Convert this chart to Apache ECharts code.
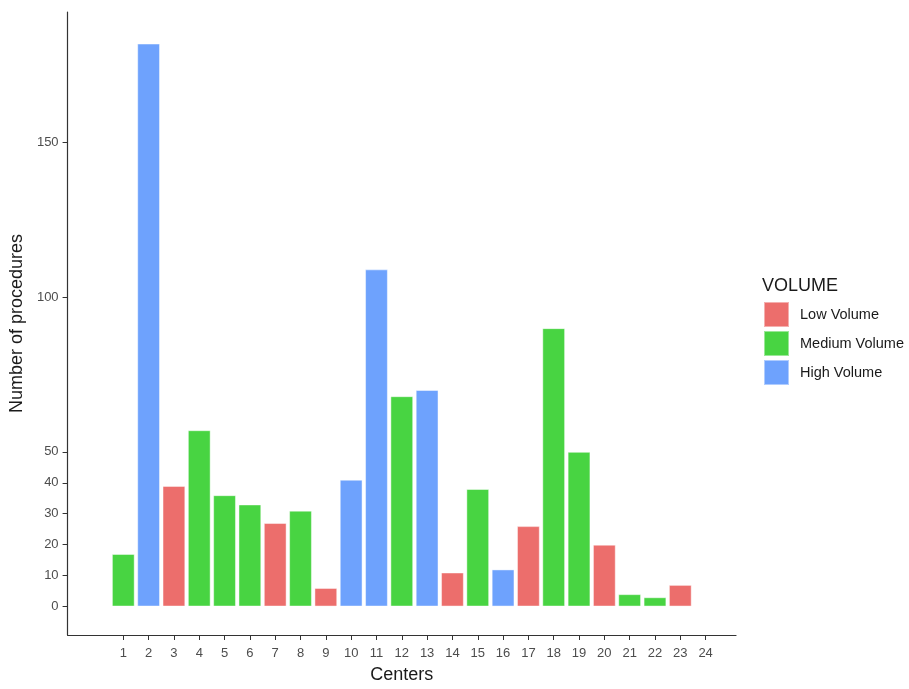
<!DOCTYPE html>
<html>
<head>
<meta charset="utf-8">
<script src="https://cdn.jsdelivr.net/npm/echarts@6/dist/echarts.min.js"></script>
<style>
html,body{margin:0;padding:0;background:#fff;}
#chart{width:909px;height:689px;}
</style>
</head>
<body>
<div id="chart"></div>
<script>
const centers = [1,2,3,4,5,6,7,8,9,10,11,12,13,14,15,16,17,18,19,20,21,22,23,24];
const procedures = [17,182,39,57,36,33,27,31,6,41,109,68,70,11,38,12,26,90,50,20,4,3,7,0];
const volume = ['Medium Volume','High Volume','Low Volume','Medium Volume','Medium Volume','Medium Volume','Low Volume','Medium Volume','Low Volume','High Volume','High Volume','Medium Volume','High Volume','Low Volume','Medium Volume','High Volume','Low Volume','Medium Volume','Medium Volume','Low Volume','Medium Volume','Medium Volume','Low Volume',null];
const groups = ['Low Volume','Medium Volume','High Volume'];
const groupColors = ['#EC6E6C','#48D442','#6EA2FD'];
const yTicks = [0,10,20,30,40,50,100,150];

const chart = echarts.init(document.getElementById('chart'), null, {renderer:'canvas'});
const font = 'Liberation Sans, Arial, sans-serif';

const series = groups.map((g, gi) => ({
  name: g,
  type: 'bar',
  barWidth: 22.8,
  barGap: '-100%',
  itemStyle: {color: groupColors[gi], borderColor: 'rgba(255,255,255,0.45)', borderWidth: 1},
  data: centers.map((c, i) => volume[i] === g ? [c, procedures[i]] : null).filter(d => d)
}));

chart.setOption({
  animation: false,
  backgroundColor: '#ffffff',
  title: {
    text: 'VOLUME', left: 762, top: 277, padding: 0,
    textStyle: {fontFamily: font, fontSize: 18, fontWeight: 'normal', color: '#1a1a1a'}
  },
  legend: {
    orient: 'vertical', left: 763, top: 301, padding: 0,
    itemWidth: 25, itemHeight: 25, itemGap: 2,
    icon: 'rect',
    data: groups,
    textStyle: {fontFamily: font, fontSize: 14.5, color: '#1a1a1a', padding: [0,0,0,6]}
  },
  grid: {left: 67, right: 173, top: 12, bottom: 48, containLabel: false},
  xAxis: {
    type: 'value', min: -1.2, max: 25.2,
    name: 'Centers', nameLocation: 'middle', nameGap: 31,
    nameTextStyle: {fontFamily: font, fontSize: 18, color: '#1a1a1a'},
    axisLine: {show: true, onZero: false, lineStyle: {color: '#333', width: 1.2}},
    axisTick: {show: true, length: 5, lineStyle: {color: '#333'}, customValues: centers},
    axisLabel: {fontFamily: font, fontSize: 13, color: '#4d4d4d', margin: 12, customValues: centers},
    splitLine: {show: false}
  },
  yAxis: {
    type: 'value', min: -9.2, max: 192.2,
    name: 'Number of procedures', nameLocation: 'middle', nameGap: 40, nameRotate: 90,
    nameTextStyle: {fontFamily: font, fontSize: 18, color: '#1a1a1a'},
    axisLine: {show: true, onZero: false, lineStyle: {color: '#333', width: 1.2}},
    axisTick: {show: true, length: 5, lineStyle: {color: '#333'}, customValues: yTicks},
    axisLabel: {fontFamily: font, fontSize: 13, color: '#4d4d4d', margin: 9, customValues: yTicks},
    splitLine: {show: false}
  },
  series: series
});
</script>
</body>
</html>
